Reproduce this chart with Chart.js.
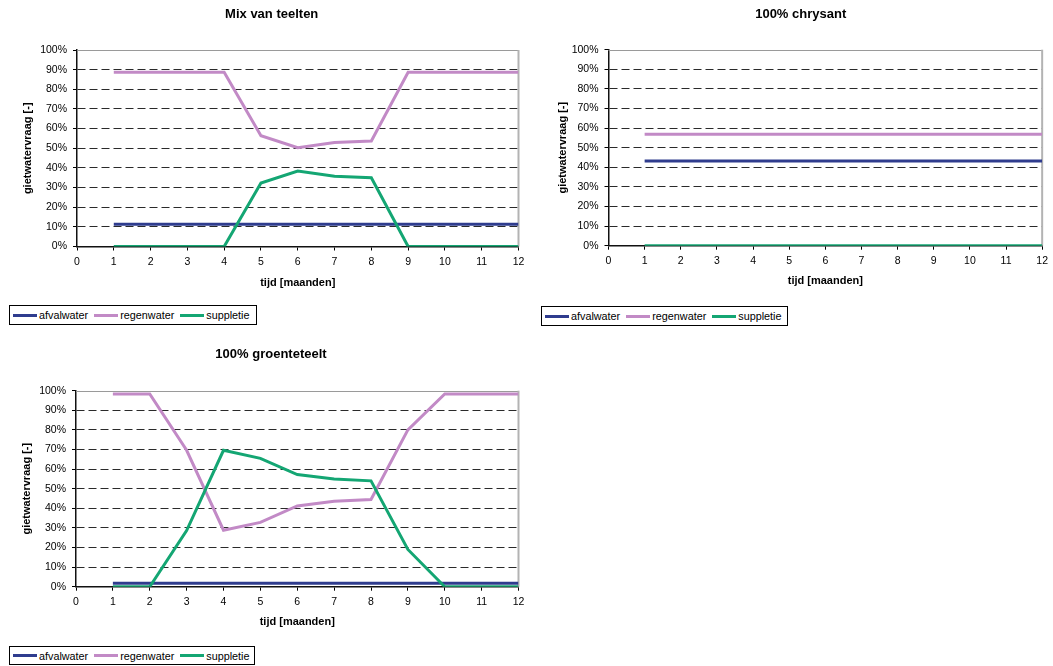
<!DOCTYPE html>
<html>
<head>
<meta charset="utf-8">
<script src="https://cdn.jsdelivr.net/npm/chart.js@4/dist/chart.umd.min.js"></script>
<style>
  html, body { margin: 0; padding: 0; background: #fff; width: 1053px; height: 666px; overflow: hidden;
    font-family: 'Liberation Sans', Arial, sans-serif; }
  canvas { position: absolute; }
  .legend { position: absolute; box-sizing: border-box; border: 1px solid #000; display: flex;
    align-items: center; padding-left: 3px; font-size: 10.8px; color: #000; white-space: nowrap; background: #fff; }
  .legend .item { display: flex; align-items: center; margin-right: 6px; }
  .legend .sw { display: inline-block; width: 24px; height: 3px; margin-right: 2px; }
</style>
</head>
<body>
<canvas id="mix" width="530" height="300" style="left:0;top:0"></canvas>
<canvas id="chrys" width="523" height="299" style="left:530px;top:0"></canvas>
<canvas id="groen" width="530" height="310" style="left:0;top:330px"></canvas>
<div class="legend" id="legMix" style="left:9px;top:305px;width:248px;height:20px"></div>
<div class="legend" id="legChrys" style="left:541px;top:306px;width:247px;height:20px"></div>
<div class="legend" id="legGroen" style="left:9px;top:646px;width:246px;height:19px"></div>

<script>
// months on the horizontal axis
const months = [1, 2, 3, 4, 5, 6, 7, 8, 9, 10, 11, 12];
const seriesNames = ['afvalwater', 'regenwater', 'suppletie'];

// share of the irrigation demand (%) per month – mixed crops
const mixAfval = [11.3, 11.3, 11.3, 11.3, 11.3, 11.3, 11.3, 11.3, 11.3, 11.3, 11.3, 11.3];
const mixRegen = [88.7, 88.7, 88.7, 88.7, 56.4, 50.3, 52.9, 53.7, 88.7, 88.7, 88.7, 88.7];
const mixSupp  = [0, 0, 0, 0, 32.3, 38.4, 35.8, 35.0, 0, 0, 0, 0];

// 100% chrysanthemum
const chrysAfval = [43.2, 43.2, 43.2, 43.2, 43.2, 43.2, 43.2, 43.2, 43.2, 43.2, 43.2, 43.2];
const chrysRegen = [56.8, 56.8, 56.8, 56.8, 56.8, 56.8, 56.8, 56.8, 56.8, 56.8, 56.8, 56.8];
const chrysSupp  = [0, 0, 0, 0, 0, 0, 0, 0, 0, 0, 0, 0];

// 100% vegetables
const groenAfval = [1.7, 1.7, 1.7, 1.7, 1.7, 1.7, 1.7, 1.7, 1.7, 1.7, 1.7, 1.7];
const groenRegen = [98.3, 98.3, 69.6, 28.8, 32.8, 41.2, 43.6, 44.5, 80.0, 98.3, 98.3, 98.3];
const groenSupp  = [0, 0, 28.6, 69.6, 65.5, 57.2, 55.0, 54.0, 19.0, 0, 0, 0];

const xTicks = { min: 0, max: 12, step: 1 };
const yTicks = { min: 0, max: 100, step: 10 };

const seriesColors = ['#2f3c8e', '#c28ac6', '#14a673'];
const FONT = "'Liberation Sans', Arial, sans-serif";
Chart.defaults.font.family = FONT;
Chart.defaults.color = '#000';

// grey frame on the top and right side of the plot area
const plotFrame = {
  id: 'plotFrame',
  beforeDatasetsDraw(chart) {
    const { ctx, chartArea: a } = chart;
    ctx.save();
    ctx.strokeStyle = '#9a9a9a';
    ctx.lineWidth = 1;
    ctx.beginPath();
    ctx.moveTo(a.left, Math.round(a.top) + 0.5);
    ctx.lineTo(a.right, Math.round(a.top) + 0.5);
    ctx.stroke();
    ctx.strokeStyle = '#b3b3b3';
    ctx.lineWidth = 2;
    ctx.beginPath();
    ctx.moveTo(a.right, a.top);
    ctx.lineTo(a.right, a.bottom);
    ctx.stroke();
    ctx.restore();
  }
};

function series(values) {
  return months.map((m, i) => ({ x: m, y: values[i] }));
}

function makeChart(id, title, data, lay) {
  const datasets = data.map((vals, i) => ({
    label: seriesNames[i],
    data: series(vals),
    borderColor: seriesColors[i],
    backgroundColor: seriesColors[i],
    borderWidth: 3,
    pointRadius: 0,
    pointHoverRadius: 0,
    tension: 0,
    fill: false,
    order: data.length - i
  }));
  return new Chart(document.getElementById(id), {
    type: 'line',
    data: { datasets },
    plugins: [plotFrame],
    options: {
      responsive: false,
      animation: false,
      events: [],
      layout: { padding: { left: lay.padLeft, right: lay.padRight, top: 0, bottom: 0 } },
      plugins: {
        legend: { display: false },
        tooltip: { enabled: false },
        title: {
          display: true, text: title, color: '#000',
          font: { size: 13, weight: 'bold' },
          padding: { top: lay.titleTop, bottom: lay.titleBottom }
        }
      },
      scales: {
        x: {
          type: 'linear', min: xTicks.min, max: xTicks.max,
          afterFit: s => { s.height = lay.xHeight; },
          ticks: { stepSize: xTicks.step, maxRotation: 0, autoSkip: false, padding: lay.xTickPad,
                   font: { size: 10.5 }, color: '#000' },
          grid: { drawOnChartArea: false, drawTicks: true, tickLength: 4, tickColor: '#000', tickWidth: 1 },
          border: { display: true, color: '#111', width: 1.5 },
          title: { display: true, text: 'tijd [maanden]', color: '#000',
                   font: { size: 11, weight: 'bold' }, padding: { top: 0, bottom: lay.xTitlePad } }
        },
        y: {
          type: 'linear', min: yTicks.min, max: yTicks.max,
          afterFit: s => { s.width = lay.yWidth; },
          ticks: { stepSize: yTicks.step, padding: 6, font: { size: 10.5 }, color: '#000',
                   callback: v => v + '%' },
          grid: {
            color: c => (c.tick && (c.tick.value === yTicks.min || c.tick.value === yTicks.max)) ? 'rgba(0,0,0,0)' : '#2a2a2a',
            lineWidth: 1, drawTicks: true, tickLength: 4, tickColor: '#000', tickWidth: 1
          },
          border: { display: true, color: '#111', width: 1.5, dash: [8, 4] },
          title: { display: true, text: 'gietwatervraag [-]', color: '#000',
                   font: { size: 11, weight: 'bold' }, padding: { top: lay.yTitlePad, bottom: 0 } }
        }
      }
    }
  });
}

function makeLegend(id) {
  const box = document.getElementById(id);
  seriesNames.forEach((name, i) => {
    const item = document.createElement('span');
    item.className = 'item';
    const sw = document.createElement('span');
    sw.className = 'sw';
    sw.style.background = seriesColors[i];
    item.appendChild(sw);
    item.appendChild(document.createTextNode(name));
    box.appendChild(item);
  });
}

makeChart('mix', 'Mix van teelten', [mixAfval, mixRegen, mixSupp],
  { padLeft: 24.9, padRight: 11.5, titleTop: 6.2, titleBottom: 28.2, yWidth: 52.1, xHeight: 53.5,
    yTitlePad: -3.8, xTickPad: 5.5, xTitlePad: 10.7 });
makeChart('chrys', '100% chrysant', [chrysAfval, chrysRegen, chrysSupp],
  { padLeft: 26.4, padRight: 8, titleTop: 6.2, titleBottom: 27.9, yWidth: 52.1, xHeight: 53.3,
    yTitlePad: 0.3, xTickPad: 5, xTitlePad: 11.4 });
makeChart('groen', '100% groenteteelt', [groenAfval, groenRegen, groenSupp],
  { padLeft: 23.5, padRight: 11.5, titleTop: 16.5, titleBottom: 28.6, yWidth: 52.5, xHeight: 53.3,
    yTitlePad: -3, xTickPad: 5.3, xTitlePad: 11.1 });

makeLegend('legMix');
makeLegend('legChrys');
makeLegend('legGroen');
</script>
</body>
</html>
